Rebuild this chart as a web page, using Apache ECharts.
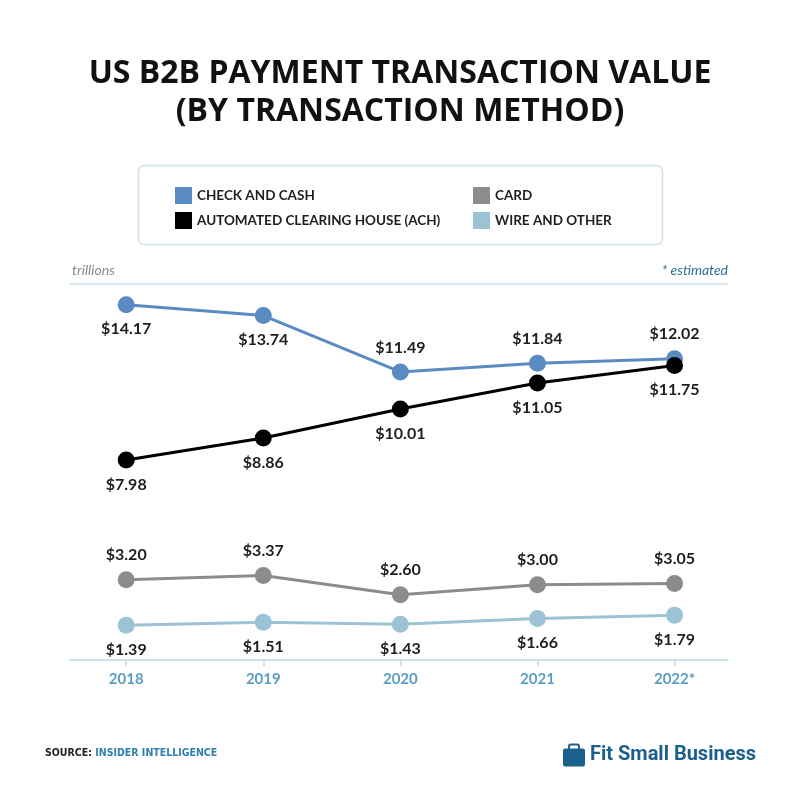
<!DOCTYPE html>
<html>
<head>
<meta charset="utf-8">
<script src="https://cdn.jsdelivr.net/npm/echarts@6/dist/echarts.min.js"></script>
<style>
  html, body { margin: 0; padding: 0; background: #fff; }
  #chart { width: 800px; height: 800px; }
</style>
</head>
<body>
<div id="chart"></div>
<script>
// 数据
const years = ['2018', '2019', '2020', '2021', '2022*']
const checkCash = [14.17, 13.74, 11.49, 11.84, 12.02]
const ach = [7.98, 8.86, 10.01, 11.05, 11.75]
const card = [3.20, 3.37, 2.60, 3.00, 3.05]
const wire = [1.39, 1.51, 1.43, 1.66, 1.79]
// 标签位置
const checkPos = ['bottom', 'bottom', 'top', 'top', 'top']
const achPos = ['bottom', 'bottom', 'bottom', 'bottom', 'bottom']
const cardPos = ['top', 'top', 'top', 'top', 'top']
const wirePos = ['bottom', 'bottom', 'bottom', 'bottom', 'bottom']

const chart = echarts.init(document.getElementById('chart'))
const FONT = 'Lato'

function points (vals, pos) {
  return vals.map(function (v, i) {
    return { value: [i, v], label: { position: pos[i] } }
  })
}

function line (name, color, vals, pos) {
  return {
    name: name,
    type: 'line',
    data: points(vals, pos),
    symbol: 'circle',
    symbolSize: 17,
    lineStyle: { color: color, width: 3 },
    itemStyle: { color: color },
    label: {
      show: true,
      distance: 8,
      formatter: function (p) { return '$' + p.value[1].toFixed(2) },
      fontFamily: FONT,
      fontWeight: 'bold',
      fontSize: 16,
      color: '#1e1e1e'
    },
    emphasis: { disabled: true },
    animation: false
  }
}

const legendText = { fontFamily: FONT, fontWeight: 'bold', fontSize: 13.5, color: '#1e1e1e' }

const option = {
  backgroundColor: '#fff',
  title: {
    text: 'US B2B PAYMENT TRANSACTION VALUE\n(BY TRANSACTION METHOD)',
    left: 'center',
    top: 50,
    textStyle: {
      fontFamily: 'Open Sans',
      fontWeight: 'bold',
      fontSize: 32,
      lineHeight: 38,
      color: '#111'
    }
  },
  legend: [
    {
      data: ['CHECK AND CASH', 'AUTOMATED CLEARING HOUSE (ACH)'],
      orient: 'vertical',
      left: 170,
      top: 182,
      itemWidth: 17,
      itemHeight: 17,
      itemGap: 8,
      icon: 'rect',
      itemStyle: { borderRadius: 2 },
      selectedMode: false,
      textStyle: legendText
    },
    {
      data: ['CARD', 'WIRE AND OTHER'],
      orient: 'vertical',
      left: 468,
      top: 182,
      itemWidth: 17,
      itemHeight: 17,
      itemGap: 8,
      icon: 'rect',
      itemStyle: { borderRadius: 2 },
      selectedMode: false,
      textStyle: legendText
    }
  ],
  grid: { left: 70, right: 72, top: 284, bottom: 140 },
  xAxis: [
    {
      type: 'value',
      min: -0.41,
      max: 4.39,
      splitLine: { show: false },
      axisLine: { lineStyle: { color: '#bcd9e6', width: 1.5 } },
      axisTick: { show: true, customValues: [0, 1, 2, 3, 4], length: 6, lineStyle: { color: '#bcd9e6', width: 1.5 } },
      axisLabel: {
        customValues: [0, 1, 2, 3, 4],
        formatter: function (v) { return years[Math.round(v)] },
        margin: 12,
        fontFamily: FONT,
        fontWeight: 'bold',
        fontSize: 15,
        color: '#5b9ec2'
      }
    },
    {
      type: 'value',
      position: 'top',
      min: -0.41,
      max: 4.39,
      splitLine: { show: false },
      axisLine: { show: true, lineStyle: { color: '#cfe4ee', width: 1.5 } },
      axisTick: { show: false },
      axisLabel: { show: false }
    }
  ],
  yAxis: {
    type: 'value',
    min: 0,
    max: 15,
    show: false
  },
  series: [
    line('CHECK AND CASH', '#5a8cc3', checkCash, checkPos),
    line('AUTOMATED CLEARING HOUSE (ACH)', '#000000', ach, achPos),
    line('CARD', '#8c8c8c', card, cardPos),
    line('WIRE AND OTHER', '#9cc3d5', wire, wirePos)
  ],
  graphic: [
    {
      type: 'rect',
      shape: { x: 138.5, y: 165.5, width: 524, height: 79, r: 6 },
      style: { fill: 'none', stroke: '#cfe3ec', lineWidth: 1.5 },
      z: -1
    },
    {
      type: 'text',
      left: 72,
      top: 263,
      style: { text: 'trillions', font: 'italic 14px Lato', fill: '#8a8a8a' }
    },
    {
      type: 'text',
      right: 72,
      top: 263,
      style: { text: '* estimated', font: 'italic 14px Lato', fill: '#2f6f96' }
    },
    {
      type: 'text',
      left: 45,
      top: 747,
      style: {
        text: '{a|SOURCE:} {b|INSIDER INTELLIGENCE}',
        rich: {
          a: { fontFamily: 'DejaVu Sans Condensed', fontWeight: 'bold', fontSize: 10.5, fill: '#222' },
          b: { fontFamily: 'DejaVu Sans Condensed', fontWeight: 'bold', fontSize: 10.5, fill: '#2f7fae' }
        }
      }
    },
    {
      type: 'group',
      left: 563,
      top: 742,
      children: [
        { type: 'rect', shape: { x: 0, y: 5, width: 22, height: 18, r: 2 }, style: { fill: '#1b5f8c' } },
        { type: 'rect', shape: { x: 6, y: 1, width: 10, height: 6, r: 2 }, style: { fill: 'none', stroke: '#1b5f8c', lineWidth: 2 } },
        { type: 'text', x: 27, y: 1, style: { text: 'Fit Small Business', font: 'bold 20px Roboto', fill: '#1b5f8c' } }
      ]
    }
  ]
}

chart.setOption(option)
</script>
</body>
</html>
